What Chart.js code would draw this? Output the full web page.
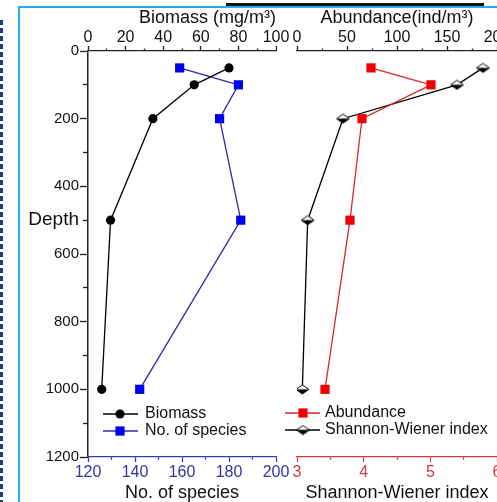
<!DOCTYPE html>
<html><head><meta charset="utf-8">
<script src="https://cdn.jsdelivr.net/npm/chart.js@4/dist/chart.umd.min.js"></script>
<style>
html,body{margin:0;padding:0;background:#fff;overflow:hidden;}
#wrap{position:relative;width:497px;height:502px;overflow:hidden;background:#fff;}
#c1{position:absolute;left:0;top:0;}
#c2{position:absolute;left:270px;top:0;}
.dash{position:absolute;left:0;top:20px;bottom:0;width:3px;background:repeating-linear-gradient(to bottom,#1e3c8c 0 5px,transparent 5px 8px);}
.cyv{position:absolute;left:18px;top:6px;bottom:0;width:2px;background:#27aee8;}
.cyh{position:absolute;left:18px;top:6px;right:0;height:2px;background:#27aee8;}
.blk{position:absolute;left:226px;top:3px;width:258px;height:3px;background:#111;}
</style></head><body>
<div id="wrap">
<div class="dash"></div><div class="cyv"></div><div class="cyh"></div><div class="blk"></div>
<canvas id="c1" width="300" height="502"></canvas>
<canvas id="c2" width="250" height="502"></canvas>
</div>
<script>
// ---- data ----
const depths = [50, 100, 200, 500, 1000];
const biomass = [75, 56.5, 34.5, 12, 7.3];
const species = [159, 184, 176, 185, 142];
const abundance = [74, 134, 65, 53, 28];
const shannon = [5.79, 5.40, 3.69, 3.16, 3.08];
const seriesNames = ['Biomass', 'No. of species', 'Abundance', 'Shannon-Wiener index'];
const depthTickLabels = [0, 200, 400, 600, 800, 1000, 1200];
const depthTitle = 'Depth';
const depthTitleAt = 500;
const biomassTickLabels = [0, 20, 40, 60, 80, 100];
const speciesTickLabels = [120, 140, 160, 180, 200];
const abundanceTickLabels = [0, 50, 100, 150, 200];
const shannonTickLabels = [3, 4, 5, 6];
const biomassTitle = 'Biomass (mg/m³)';
const speciesTitle = 'No. of species';
const abundanceTitle = 'Abundance(ind/m³)';
const shannonTitle = 'Shannon-Wiener index';

const FONT = "'Liberation Sans', Arial, Helvetica, sans-serif";
Chart.defaults.font.family = FONT;

function isIn(arr, v) { return arr.some(a => Math.abs(a - v) < 1e-9); }
function fixH(h) { return s => { s.height = h; s.paddingLeft = 0; s.paddingRight = 0; }; }
function fixW(w) { return s => { s.width = w; s.paddingTop = 0; s.paddingBottom = 0; }; }

function xAxis(o) {
  return {
    type: 'linear', position: o.pos, min: o.min, max: o.max,
    afterFit: fixH(o.height),
    border: { display: true, color: o.color, width: 1.3 },
    grid: {
      drawOnChartArea: false, drawTicks: true, tickLength: o.tl, tickColor: o.color, tickWidth: 1.3,
      tickBorderDash: ctx => (ctx.tick && !isIn(o.labels, ctx.tick.value)) ? o.minorDash : [],
      tickBorderDashOffset: ctx => (ctx.tick && !isIn(o.labels, ctx.tick.value)) ? o.minorOffset : 0
    },
    ticks: {
      stepSize: o.step, autoSkip: false, maxRotation: 0, minRotation: 0, padding: o.tickPad,
      color: o.labelColor, font: { family: FONT, size: 16, lineHeight: 1 },
      callback: v => isIn(o.labels, v) ? String(v) : ''
    },
    title: { display: true, text: o.title, color: '#111', align: o.titleAlign || 'center',
      font: { family: FONT, size: 18, lineHeight: 1 }, padding: o.titlePad }
  };
}

function makeDiamond() {
  const c = document.createElement('canvas'); c.width = 15; c.height = 11;
  const g = c.getContext('2d');
  const cx = 7.5, cy = 5.5, hw = 6.5, hh = 4.5;
  g.beginPath(); g.moveTo(cx - hw, cy); g.lineTo(cx, cy - hh); g.lineTo(cx + hw, cy); g.closePath();
  g.fillStyle = '#fff'; g.fill();
  g.beginPath(); g.moveTo(cx - hw, cy); g.lineTo(cx + hw, cy); g.lineTo(cx, cy + hh); g.closePath();
  g.fillStyle = '#000'; g.fill();
  g.beginPath(); g.moveTo(cx - hw, cy); g.lineTo(cx, cy - hh); g.lineTo(cx + hw, cy); g.lineTo(cx, cy + hh); g.closePath();
  g.strokeStyle = '#000'; g.lineWidth = 1; g.stroke();
  return c;
}
const diamond = makeDiamond();

function drawMarker(ctx, ds, x, y) {
  const s = ds.pointStyle;
  if (typeof s === 'object') { ctx.drawImage(s, x - s.width / 2, y - s.height / 2); return; }
  ctx.fillStyle = ds.pointBackgroundColor;
  if (s === 'circle') { ctx.beginPath(); ctx.arc(x, y, ds.pointRadius, 0, Math.PI * 2); ctx.fill(); }
  else { const h = ds.pointRadius * Math.SQRT1_2; ctx.fillRect(x - h, y - h, 2 * h, 2 * h); }
}

function legendPlugin(cfg) {
  return {
    id: 'customLegend' + cfg.id,
    afterDatasetsDraw(chart) {
      const ctx = chart.ctx; ctx.save();
      cfg.items.forEach(it => {
        const ds = chart.data.datasets[it.ds];
        ctx.strokeStyle = ds.borderColor; ctx.lineWidth = 1.5;
        ctx.beginPath(); ctx.moveTo(cfg.x1, it.y); ctx.lineTo(cfg.x2, it.y); ctx.stroke();
        drawMarker(ctx, ds, cfg.mx, it.y);
        ctx.fillStyle = '#111'; ctx.font = '16px ' + FONT; ctx.textBaseline = 'middle'; ctx.textAlign = 'left';
        ctx.fillText(ds.label, cfg.tx, it.y);
      });
      ctx.restore();
    }
  };
}

function pts(vals) { return depths.map((d, i) => ({ x: vals[i], y: d })); }

const common = {
  responsive: false, animation: false, devicePixelRatio: 1, events: [],
  plugins: { legend: { display: false }, tooltip: { enabled: false }, title: { display: false } }
};

// ---- left panel ----
new Chart(document.getElementById('c1'), {
  type: 'line',
  data: {
    datasets: [
      { label: seriesNames[0], data: pts(biomass), xAxisID: 'xTop', yAxisID: 'y',
        borderColor: '#000', borderWidth: 1.3, pointStyle: 'circle', pointRadius: 4.6,
        pointBackgroundColor: '#000', pointBorderColor: '#000', pointBorderWidth: 0, tension: 0, fill: false },
      { label: seriesNames[1], data: pts(species), xAxisID: 'xBot', yAxisID: 'y',
        borderColor: '#2b2ba8', borderWidth: 1.3, pointStyle: 'rect', pointRadius: 6.5,
        pointBackgroundColor: '#0000f0', pointBorderColor: '#0000f0', pointBorderWidth: 0, tension: 0, fill: false }
    ]
  },
  options: Object.assign({}, common, {
    layout: { padding: { left: 0, right: 24, top: 0, bottom: 0 } },
    scales: {
      y: {
        type: 'linear', position: 'left', reverse: true, min: 0, max: 1200,
        afterFit: fixW(88),
        border: { display: true, color: '#222', width: 1.5 },
        grid: {
          drawOnChartArea: false, drawTicks: true, tickLength: 8, tickColor: '#222', tickWidth: 1.3,
          tickBorderDash: ctx => (ctx.tick && !isIn(depthTickLabels, ctx.tick.value)) ? [5, 3] : [],
          tickBorderDashOffset: ctx => (ctx.tick && !isIn(depthTickLabels, ctx.tick.value)) ? 5 : 0
        },
        ticks: {
          stepSize: 100, autoSkip: false, padding: 1, color: '#111',
          font: ctx => (ctx.tick && ctx.tick.value === depthTitleAt) ? { family: FONT, size: 19, lineHeight: 1 } : { family: FONT, size: 15, lineHeight: 1 },
          callback: v => v === depthTitleAt ? depthTitle : (isIn(depthTickLabels, v) ? String(v) : '')
        }
      },
      xTop: xAxis({ pos: 'top', min: 0, max: 100, step: 10, labels: biomassTickLabels, title: biomassTitle,
        color: '#222', labelColor: '#111', tl: 5, minorDash: [2.5, 2.5], minorOffset: 2.5, height: 51,
        tickPad: 0, titlePad: { top: 9, bottom: 0 }, titleAlign: 'end' }),
      xBot: xAxis({ pos: 'bottom', min: 120, max: 200, step: 10, labels: speciesTickLabels, title: speciesTitle,
        color: '#3b3ba6', labelColor: '#3434a0', tl: 5, minorDash: [2.5, 10], minorOffset: 0, height: 45,
        tickPad: 3, titlePad: { top: 0, bottom: 0 } })
    }
  }),
  plugins: [legendPlugin({ id: 'L', x1: 103, x2: 138, mx: 120, tx: 145,
    items: [{ ds: 0, y: 414 }, { ds: 1, y: 431 }] })]
});

// ---- right panel ----
new Chart(document.getElementById('c2'), {
  type: 'line',
  data: {
    datasets: [
      { label: seriesNames[2], data: pts(abundance), xAxisID: 'xTop', yAxisID: 'y',
        borderColor: '#d42a2a', borderWidth: 1.3, pointStyle: 'rect', pointRadius: 6.5,
        pointBackgroundColor: '#f00000', pointBorderColor: '#f00000', pointBorderWidth: 0, tension: 0, fill: false },
      { label: seriesNames[3], data: pts(shannon), xAxisID: 'xBot', yAxisID: 'y',
        borderColor: '#000', borderWidth: 1.3, pointStyle: diamond, pointRadius: 7,
        pointBackgroundColor: '#000', pointBorderColor: '#000', pointBorderWidth: 0, tension: 0, fill: false }
    ]
  },
  options: Object.assign({}, common, {
    layout: { padding: { left: 27, right: 23, top: 0, bottom: 0 } },
    scales: {
      y: { type: 'linear', display: false, reverse: true, min: 0, max: 1200 },
      xTop: xAxis({ pos: 'top', min: 0, max: 200, step: 25, labels: abundanceTickLabels, title: abundanceTitle,
        color: '#222', labelColor: '#111', tl: 5, minorDash: [2.5, 2.5], minorOffset: 2.5, height: 51,
        tickPad: 0, titlePad: { top: 9, bottom: 0 } }),
      xBot: xAxis({ pos: 'bottom', min: 3, max: 6, step: 0.5, labels: shannonTickLabels, title: shannonTitle,
        color: '#d03a3a', labelColor: '#d03a3a', tl: 5, minorDash: [2.5, 10], minorOffset: 0, height: 45,
        tickPad: 3, titlePad: { top: 0, bottom: 0 } })
    }
  }),
  plugins: [legendPlugin({ id: 'R', x1: 15, x2: 50, mx: 33, tx: 55,
    items: [{ ds: 0, y: 413 }, { ds: 1, y: 430 }] })]
});
</script>
</body></html>
